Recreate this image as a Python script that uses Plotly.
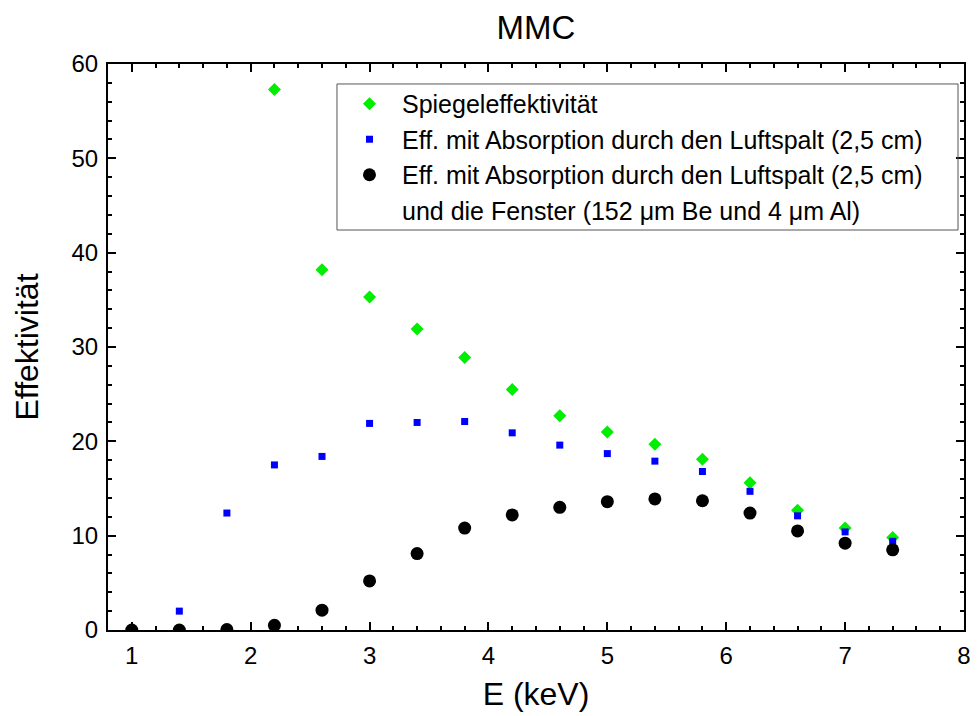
import plotly.graph_objects as go

# Energies (keV)
energy_green = [2.2, 2.6, 3.0, 3.4, 3.8, 4.2, 4.6, 5.0, 5.4, 5.8, 6.2, 6.6, 7.0, 7.4]
spiegel_eff = [57.3, 38.2, 35.3, 31.9, 28.9, 25.5, 22.7, 21.0, 19.7, 18.1, 15.6, 12.7, 10.8, 9.8]

energy_blue = [1.0, 1.4, 1.8, 2.2, 2.6, 3.0, 3.4, 3.8, 4.2, 4.6, 5.0, 5.4, 5.8, 6.2, 6.6, 7.0, 7.4]
luft_eff = [0.0, 2.0, 12.4, 17.5, 18.4, 21.9, 22.0, 22.1, 20.9, 19.6, 18.7, 17.9, 16.8, 14.7, 12.1, 10.4, 9.4]

energy_black = [1.0, 1.4, 1.8, 2.2, 2.6, 3.0, 3.4, 3.8, 4.2, 4.6, 5.0, 5.4, 5.8, 6.2, 6.6, 7.0, 7.4]
fenster_eff = [0.0, 0.0, 0.05, 0.5, 2.1, 5.2, 8.1, 10.8, 12.2, 13.0, 13.6, 13.9, 13.7, 12.4, 10.5, 9.2, 8.5]

x_ticks = [1, 2, 3, 4, 5, 6, 7, 8]
y_ticks = [0, 10, 20, 30, 40, 50, 60]

fig = go.Figure()
fig.add_trace(go.Scatter(x=energy_green, y=spiegel_eff, mode="markers",
                         name="Spiegeleffektivität", legendgroup="a",
                         marker=dict(symbol="diamond", size=10, color="#00ee00")))
fig.add_trace(go.Scatter(x=energy_blue, y=luft_eff, mode="markers",
                         name="Eff. mit Absorption durch den Luftspalt (2,5 cm)", legendgroup="b",
                         marker=dict(symbol="square", size=7, color="#0000ff")))
fig.add_trace(go.Scatter(x=energy_black, y=fenster_eff, mode="markers",
                         name="Eff. mit Absorption durch den Luftspalt (2,5 cm)", legendgroup="c",
                         marker=dict(symbol="circle", size=13, color="black")))
fig.add_trace(go.Scatter(x=[None], y=[None], mode="markers",
                         name="und die Fenster (152 μm Be und 4 μm Al)", legendgroup="d",
                         marker=dict(symbol="circle", size=1, color="rgba(0,0,0,0)")))

axis_common = dict(
    showline=True, linecolor="black", linewidth=2, mirror="ticks",
    ticks="inside", ticklen=8, tickwidth=2, tickcolor="black",
    showgrid=False, zeroline=False,
    tickfont=dict(size=24, color="black"),
)

fig.update_xaxes(range=[0.8, 8], tickvals=x_ticks, ticklabelstandoff=3,
                 minor=dict(dtick=0.2, ticks="inside", ticklen=4, tickwidth=1.5, tickcolor="black"),
                 title=dict(text="E (keV)", font=dict(size=32, color="black"), standoff=15),
                 **axis_common)
fig.update_yaxes(range=[0, 60], tickvals=y_ticks, ticklabelstandoff=3,
                 minor=dict(dtick=2, ticks="inside", ticklen=4, tickwidth=1.5, tickcolor="black"),
                 title=dict(text="Effektivität", font=dict(size=32, color="black"), standoff=23),
                 **axis_common)

# legend frame
fig.add_shape(type="rect", xref="paper", yref="paper",
              x0=0.2675, x1=0.993, y0=0.7067, y1=0.9647,
              line=dict(color="#555555", width=1), fillcolor="rgba(0,0,0,0)", layer="above")

fig.update_layout(
    width=978, height=716,
    margin=dict(l=100, r=22, t=56, b=94, autoexpand=False),
    paper_bgcolor="white", plot_bgcolor="white",
    font=dict(family="Liberation Sans, Arial, sans-serif", color="black"),
    title=dict(text="MMC", x=0.5, xref="paper", y=0.9735, yref="container", yanchor="middle",
               font=dict(size=33, color="black")),
    showlegend=True,
    legend=dict(x=0.2675, y=0.970, xanchor="left", yanchor="top",
                borderwidth=0, bgcolor="rgba(0,0,0,0)",
                font=dict(size=25, color="black"), tracegroupgap=0,
                itemsizing="trace", itemwidth=55),
)

fig.write_html("out.html")
